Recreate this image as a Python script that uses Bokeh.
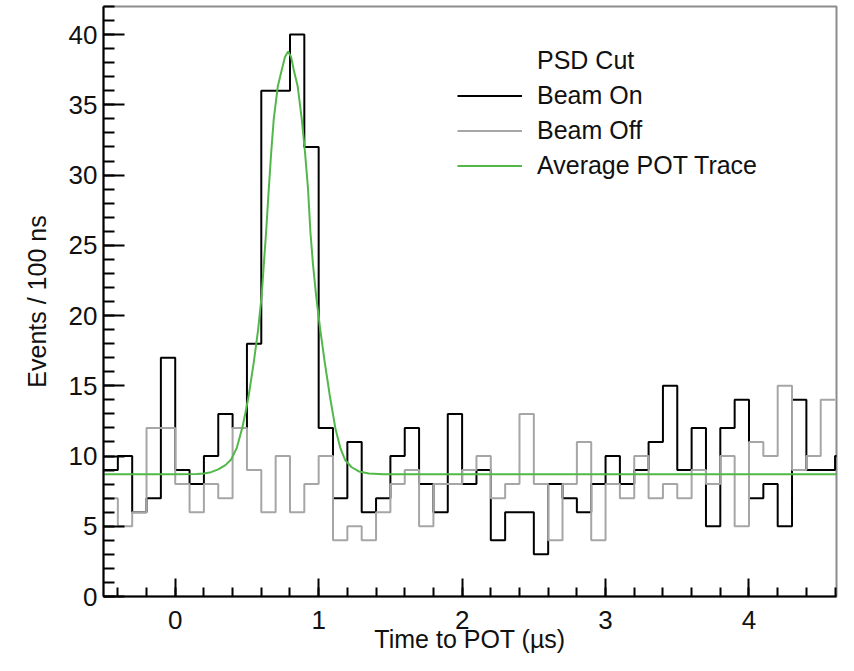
from bokeh.plotting import figure
from bokeh.models import Range1d, Legend, LegendItem, FixedTicker
from bokeh.embed import file_html
from bokeh.resources import INLINE

# ---- data ----
bin_start = -0.5
bin_width = 0.1
beam_on = [9, 10, 6, 7, 17, 9, 8, 10, 13, 12,
           18, 36, 36, 40, 32, 12, 7, 11, 6, 7,
           10, 12, 8, 6, 13, 8, 9, 4, 6, 6,
           3, 8, 7, 6, 8, 10, 8, 9, 11, 15,
           9, 12, 5, 12, 14, 7, 8, 5, 14, 9,
           9, 10]
beam_off = [7, 5, 6, 12, 12, 8, 6, 8, 7, 12,
            9, 6, 10, 6, 8, 10, 4, 5, 4, 6,
            8, 9, 5, 8, 8, 9, 10, 7, 8, 13,
            8, 4, 8, 11, 4, 8, 7, 10, 7, 8,
            7, 9, 8, 10, 5, 11, 10, 15, 9, 10,
            14]
trace_t = [-0.5, 0.0, 0.15, 0.2, 0.25, 0.3, 0.35, 0.39, 0.43, 0.467, 0.49,
           0.514, 0.548, 0.578, 0.602, 0.618, 0.634, 0.651, 0.669, 0.687,
           0.715, 0.743, 0.765, 0.787, 0.808, 0.826, 0.854, 0.882, 0.905,
           0.926, 0.942, 0.960, 0.983, 1.011, 1.042, 1.076, 1.116, 1.15,
           1.185, 1.23, 1.28, 1.35, 1.45, 4.7]
trace_v = [8.7, 8.7, 8.72, 8.76, 8.85, 9.05, 9.35, 9.75, 10.6, 12.0, 13.1,
           14.4, 16.7, 19.0, 21.35, 23.7, 26.0, 28.8, 31.6, 34.0,
           36.3, 37.5, 38.4, 38.8, 38.4, 37.5, 36.3, 34.0, 31.6,
           29.0, 26.0, 23.7, 21.35, 19.0, 16.7, 14.4, 12.0, 10.6,
           9.7, 9.2, 8.9, 8.75, 8.71, 8.7]
x_ticks = [0, 1, 2, 3, 4]
y_ticks = [0, 5, 10, 15, 20, 25, 30, 35, 40]
legend_header = "PSD Cut"
labels = ["Beam On", "Beam Off", "Average POT Trace"]


def edges_for(values):
    n = len(values)
    xs = [round(bin_start + bin_width * i, 3) for i in range(n + 1)]
    ys = list(values) + [values[-1]]
    return xs, ys


FONT = "Liberation Sans"

p = figure(width=838, height=655, output_backend="svg", toolbar_location=None,
           x_range=Range1d(-0.5, 4.61), y_range=Range1d(0, 42),
           min_border_left=103, min_border_right=2, min_border_top=6,
           min_border_bottom=50)
p.xgrid.visible = False
p.ygrid.visible = False
p.outline_line_color = "#8c8c8c"
p.outline_line_width = 2
p.background_fill_color = "white"
p.border_fill_color = "white"

xs_on, ys_on = edges_for(beam_on)
xs_off, ys_off = edges_for(beam_off)
r_on = p.step(xs_on, ys_on, mode="after", line_color="black", line_width=2)
r_off = p.step(xs_off, ys_off, mode="after", line_color="#a6a6a6", line_width=2)
r_tr = p.line(trace_t, trace_v, line_color="#52b84a", line_width=2)
dummy = p.line(x=[], y=[], line_alpha=0)

# axes
p.xaxis.ticker = FixedTicker(ticks=x_ticks,
                             minor_ticks=[round(-0.4 + 0.2 * i, 2) for i in range(26)])
p.yaxis.ticker = FixedTicker(ticks=y_ticks, minor_ticks=list(range(0, 43)))
for ax in (p.xaxis[0], p.yaxis[0]):
    ax.axis_line_width = 2
    ax.axis_line_color = "black"
    ax.major_tick_line_width = 2
    ax.minor_tick_line_width = 2
    ax.major_tick_out = 0
    ax.minor_tick_out = 0
    ax.major_label_text_font = FONT
    ax.major_label_text_font_size = "26px"
    ax.major_label_text_color = "#111111"
    ax.axis_label_text_font = FONT
    ax.axis_label_text_font_size = "25px"
    ax.axis_label_text_font_style = "normal"
    ax.axis_label_text_color = "#111111"

p.xaxis.major_tick_in = 18
p.xaxis.minor_tick_in = 9
p.yaxis.major_tick_in = 21
p.yaxis.minor_tick_in = 11
p.xaxis.axis_label = "Time to POT (µs)"
p.yaxis.axis_label = "Events / 100 ns"
p.xaxis.major_label_standoff = 14
p.xaxis.axis_label_standoff = -7
p.yaxis.major_label_standoff = 6
p.yaxis.axis_label_standoff = 15

legend = Legend(items=[LegendItem(label=legend_header, renderers=[dummy]),
                       LegendItem(label=labels[0], renderers=[r_on]),
                       LegendItem(label=labels[1], renderers=[r_off]),
                       LegendItem(label=labels[2], renderers=[r_tr])],
                location=(354, 413), border_line_alpha=0,
                background_fill_alpha=0, padding=0, margin=0, spacing=0,
                label_text_font=FONT, label_text_font_size="25px",
                label_text_color="#111111",
                glyph_width=65, glyph_height=35, label_height=35,
                label_standoff=15)
p.add_layout(legend)

open("out.html", "w").write(file_html(p, INLINE))
